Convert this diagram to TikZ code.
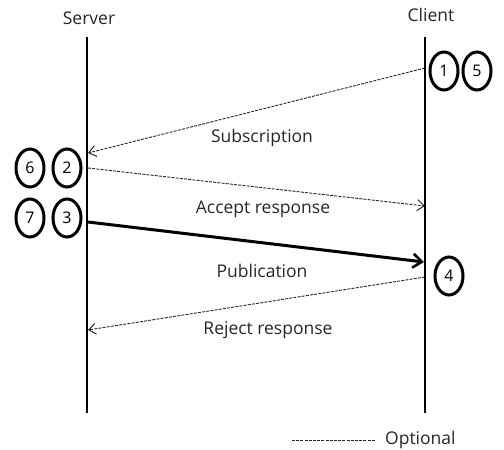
\documentclass[tikz,border=0pt]{standalone}
\usepackage{fontspec}
\setmainfont{Open Sans}
\usetikzlibrary{arrows.meta,shapes.geometric}
\begin{document}
\begin{tikzpicture}[x=1pt,y=-1pt,
  lbl/.style={font=\fontsize{17.5}{20}\selectfont, inner sep=0pt, text=black!85},
  num/.style={draw, ellipse, line width=3pt, minimum width=28pt, minimum height=38pt, inner sep=0pt, font=\fontsize{16}{18}\selectfont},
  lifeline/.style={line width=2pt},
  opt/.style={line width=0.9pt, black!85, dash pattern=on 3pt off 1.2pt},
  openarrow/.style={-{Straight Barb[length=7pt,width=11pt,line width=1pt]}},
  solidarrow/.style={line width=3pt, -{Straight Barb[length=9pt,width=14pt,line width=2.6pt]}}
]
\useasboundingbox (0,0) rectangle (504,450);
% lifelines
\node[lbl] (server) at (89,18) {Server};
\node[lbl] (client) at (431,15) {Client};
\coordinate (stop) at (87,37);
\coordinate (sbot) at (87,413);
\coordinate (ctop) at (425,37);
\coordinate (cbot) at (425,413);
\draw[lifeline] (stop) -- (sbot);
\draw[lifeline] (ctop) -- (cbot);
% message endpoints
\coordinate (c1) at (425,68);
\coordinate (s1) at (88,153);
\coordinate (s2) at (88,168);
\coordinate (c2) at (425,206);
\coordinate (s3) at (88,222);
\coordinate (c3) at (424,262);
\coordinate (c4) at (425,277);
\coordinate (s4) at (88,330);
% messages
\draw[opt, openarrow] (c1) -- (s1);
\draw[opt, openarrow] (s2) -- (c2);
\draw[solidarrow] (s3) -- (c3);
\draw[opt, openarrow] (c4) -- (s4);
% labels
\node[lbl] (lsub) at (262,138) {Subscription};
\node[lbl] (lacc) at (263,209) {Accept response};
\node[lbl] (lpub) at (262,271) {Publication};
\node[lbl] (lrej) at (268,330) {Reject response};
% step numbers
\node[num] (n1) at (444,71) {1};
\node[num] (n5) at (477,71) {5};
\node[num] (n6) at (30,168) {6};
\node[num] (n2) at (67,168) {2};
\node[num] (n7) at (30,218) {7};
\node[num] (n3) at (67,218) {3};
\node[num] (n4) at (449,276) {4};
% legend
\coordinate (la) at (292,440);
\coordinate (lb) at (375,440);
\draw[opt] (la) -- (lb);
\node[lbl, anchor=west] (lopt) at (385,440) {Optional};
\end{tikzpicture}
\end{document}
